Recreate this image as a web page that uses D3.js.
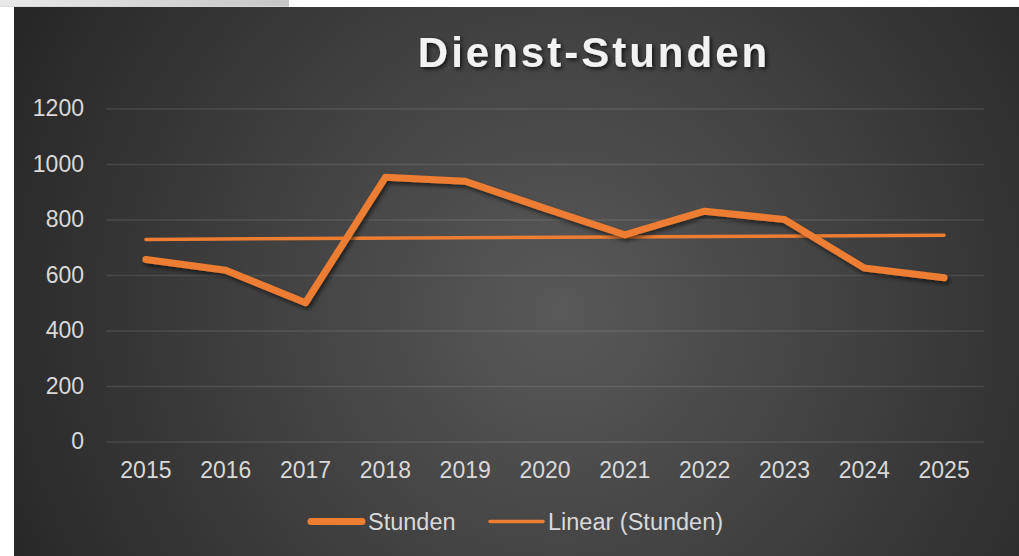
<!DOCTYPE html>
<html>
<head>
<meta charset="utf-8">
<script src="https://cdnjs.cloudflare.com/ajax/libs/d3/7.8.5/d3.min.js"></script>
<style>
  html, body { margin: 0; padding: 0; background: #ffffff; overflow: hidden; }
  #strip {
    position: absolute; left: 0; top: 0; width: 289px; height: 6px;
    background: linear-gradient(to right, #e9e9e9, #c6c6c6);
    border-bottom: 1px solid #d8d8d8;
  }
  svg { position: absolute; left: 0; top: 0; }
</style>
</head>
<body>
<div id="strip"></div>
<div id="chart"></div>
<script>
var years = ['2015', '2016', '2017', '2018', '2019', '2020', '2021', '2022', '2023', '2024', '2025'];
var stunden = [656, 617, 500, 952, 938, 840, 745, 830, 800, 625, 590];
var yTicks = [0, 200, 400, 600, 800, 1000, 1200];
var seriesNames = ['Stunden', 'Linear (Stunden)'];

var width = 1019, height = 556;
var orange = '#ED7D31';
var font = 'Arial, "Liberation Sans", sans-serif';

var svg = d3.select('#chart').append('svg')
    .attr('width', width)
    .attr('height', height);

var defs = svg.append('defs');

var grad = defs.append('radialGradient')
    .attr('id', 'bg')
    .attr('gradientUnits', 'userSpaceOnUse')
    .attr('cx', 560).attr('cy', 310).attr('r', 620);
grad.append('stop').attr('offset', '0%').attr('stop-color', '#595959');
grad.append('stop').attr('offset', '100%').attr('stop-color', '#262626');

var shadow = defs.append('filter')
    .attr('id', 'shadow')
    .attr('x', '-10%').attr('y', '-10%')
    .attr('width', '120%').attr('height', '130%');
shadow.append('feDropShadow')
    .attr('dx', 2).attr('dy', 3)
    .attr('stdDeviation', 2)
    .attr('flood-color', '#000')
    .attr('flood-opacity', 0.55);

var titleShadow = defs.append('filter')
    .attr('id', 'titleShadow')
    .attr('x', '-10%').attr('y', '-20%')
    .attr('width', '120%').attr('height', '150%');
titleShadow.append('feDropShadow')
    .attr('dx', 2).attr('dy', 2)
    .attr('stdDeviation', 2)
    .attr('flood-color', '#000')
    .attr('flood-opacity', 0.7);

svg.append('rect')
    .attr('x', 14).attr('y', 7)
    .attr('width', width - 14).attr('height', height - 7)
    .attr('fill', 'url(#bg)');

// title
svg.append('text')
    .attr('x', 594)
    .attr('y', 66.5)
    .attr('text-anchor', 'middle')
    .attr('font-family', font)
    .attr('font-weight', 'bold')
    .attr('font-size', '42px')
    .attr('letter-spacing', '3px')
    .attr('fill', '#f2f2f2')
    .attr('filter', 'url(#titleShadow)')
    .text('Dienst-Stunden');

var plot = { left: 106, right: 984, top: 108.5, bottom: 441.5 };

var x = d3.scaleBand()
    .domain(years)
    .range([plot.left, plot.right]);

var y = d3.scaleLinear()
    .domain([0, 1200])
    .range([plot.bottom, plot.top]);

function cx(d){ return x(d) + x.bandwidth() / 2; }

// y axis with gridlines
var yAxis = svg.append('g')
    .attr('transform', 'translate(' + plot.left + ',0)')
    .call(d3.axisLeft(y)
        .tickValues(yTicks)
        .tickFormat(d3.format('d'))
        .tickSize(-(plot.right - plot.left))
        .tickPadding(22));
yAxis.select('.domain').remove();
yAxis.selectAll('.tick line')
    .attr('stroke', '#ffffff')
    .attr('stroke-opacity', 0.1)
    .attr('stroke-width', 1.5);
yAxis.selectAll('.tick text')
    .attr('fill', '#d9d9d9')
    .attr('font-family', font)
    .attr('font-size', '23px');

// x axis
var xAxis = svg.append('g')
    .attr('transform', 'translate(0,' + plot.bottom + ')')
    .call(d3.axisBottom(x).tickSize(0).tickPadding(20));
xAxis.select('.domain').remove();
xAxis.selectAll('.tick text')
    .attr('fill', '#d9d9d9')
    .attr('font-family', font)
    .attr('font-size', '23px');

// linear trend (least squares over category index)
var n = stunden.length;
var idx = d3.range(n);
var mx = d3.mean(idx), my = d3.mean(stunden);
var slope = d3.sum(idx, function(i){ return (i - mx) * (stunden[i] - my); }) /
    d3.sum(idx, function(i){ return (i - mx) * (i - mx); });
var trend = [0, n - 1].map(function(i){
    return { year: years[i], value: my + slope * (i - mx) };
});

svg.append('path')
    .datum(trend)
    .attr('d', d3.line()
        .x(function(d){ return cx(d.year); })
        .y(function(d){ return y(d.value); }))
    .attr('fill', 'none')
    .attr('stroke', orange)
    .attr('stroke-width', 3.5)
    .attr('stroke-linecap', 'round');

// main series
svg.append('path')
    .datum(stunden)
    .attr('d', d3.line()
        .x(function(d, i){ return cx(years[i]); })
        .y(function(d){ return y(d); }))
    .attr('fill', 'none')
    .attr('stroke', orange)
    .attr('stroke-width', 7)
    .attr('stroke-linecap', 'round')
    .attr('stroke-linejoin', 'round')
    .attr('filter', 'url(#shadow)');

// legend
var legendItems = [
    { name: seriesNames[0], x1: 311, x2: 362, tx: 368, w: 7 },
    { name: seriesNames[1], x1: 490, x2: 543, tx: 548, w: 3.5 }
];
var legend = svg.append('g');
legendItems.forEach(function(item){
    legend.append('line')
        .attr('x1', item.x1).attr('x2', item.x2)
        .attr('y1', 521.5).attr('y2', 521.5)
        .attr('stroke', orange)
        .attr('stroke-width', item.w)
        .attr('stroke-linecap', 'round');
    legend.append('text')
        .attr('x', item.tx)
        .attr('y', 530)
        .attr('fill', '#d9d9d9')
        .attr('font-family', font)
        .attr('font-size', '23.5px')
        .text(item.name);
});
</script>
</body>
</html>
